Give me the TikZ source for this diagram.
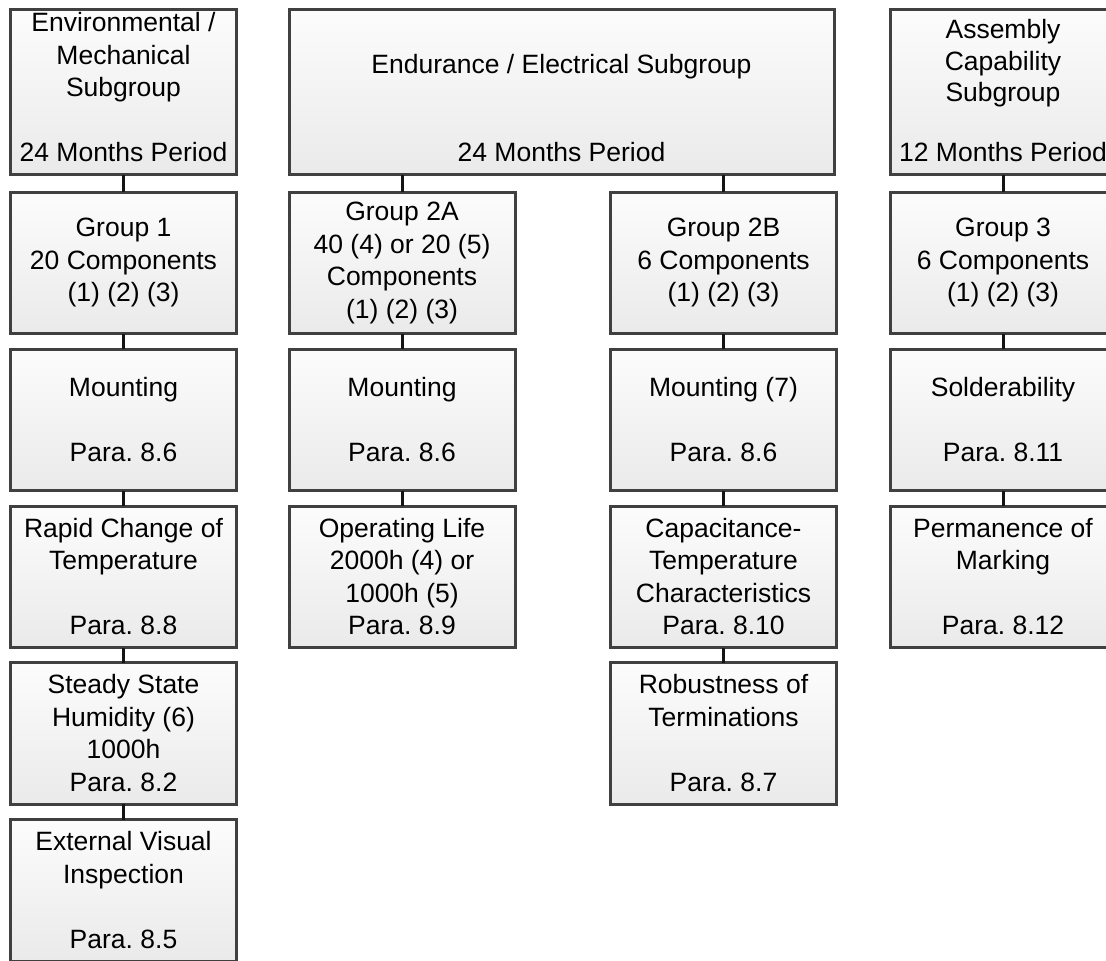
\documentclass[tikz,border=0pt]{standalone}
\usepackage{fontspec}
\setmainfont{Liberation Sans}
\frenchspacing
\definecolor{boxline}{HTML}{404040}
\definecolor{boxtop}{HTML}{FCFCFC}
\definecolor{boxbot}{HTML}{EAEAEA}
\definecolor{linkcol}{HTML}{141414}
\newcommand{\lowpad}[1]{\rule[-#1]{0pt}{0pt}}
\begin{document}
\begin{tikzpicture}[x=1pt,y=-1pt,
  box/.style={draw=boxline, line width=3pt, top color=boxtop, bottom color=boxbot,
    anchor=north west, minimum width=226pt, minimum height=141.5pt,
    inner sep=0pt, outer sep=0pt, align=center,
    font=\fontsize{26.5}{32.5}\selectfont\frenchspacing, text=black},
  tallbox/.style={box, minimum height=165pt},
  link/.style={line width=3pt, draw=linkcol}]
\fill[white] (0,0) rectangle (1106,961);
\clip (0,0) rectangle (1106,961);
% top row
\node[tallbox] (env) at (10.5,9.5) {Environmental /\\Mechanical\\Subgroup\\[32.5pt]24 Months Period\lowpad{10pt}};
\node[tallbox, minimum width=545pt] (endu) at (289,9.5) {\vphantom{E}\\Endurance / Electrical Subgroup\\[55.5pt]24 Months Period};
\node[tallbox, font=\fontsize{26.5}{31.5}\selectfont\frenchspacing] (asm) at (890,9.5) {Assembly\\Capability\\Subgroup\\[28pt]12 Months Period\lowpad{3pt}};
% column 1
\node[box] (g1) at (10.5,192) {Group 1\\20 Components\\(1) (2) (3)};
\node[box] (m1) at (10.5,349) {Mounting\\[32.5pt]Para. 8.6};
\node[box] (r1) at (10.5,506) {Rapid Change of\\Temperature\\[32.5pt]Para. 8.8};
\node[box] (s1) at (10.5,662.5) {Steady State\\Humidity (6)\\1000h\\Para. 8.2};
\node[box] (e1) at (10.5,819.5) {External Visual\\Inspection\\[32.5pt]Para. 8.5};
% column 2
\node[box] (g2a) at (289,192) {Group 2A\\40 (4) or 20 (5)\\Components\\(1) (2) (3)};
\node[box] (m2a) at (289,349) {Mounting\\[32.5pt]Para. 8.6};
\node[box] (o2a) at (289,506) {Operating Life\\2000h (4) or\\1000h (5)\\Para. 8.9};
% column 3
\node[box] (g2b) at (610.5,192) {Group 2B\\6 Components\\(1) (2) (3)};
\node[box] (m2b) at (610.5,349) {Mounting (7)\\[32.5pt]Para. 8.6};
\node[box] (c2b) at (610.5,506) {Capacitance-\\Temperature\\Characteristics\\Para. 8.10};
\node[box] (r2b) at (610.5,662.5) {Robustness of\\Terminations\\[32.5pt]Para. 8.7};
% column 4
\node[box] (g3) at (890,192) {Group 3\\6 Components\\(1) (2) (3)};
\node[box] (sol) at (890,349) {Solderability\\[32.5pt]Para. 8.11};
\node[box] (pm) at (890,506) {Permanence of\\Marking\\[32.5pt]Para. 8.12};
% connectors
\draw[link] (env.south) -- (g1.north);
\draw[link] (g1.south) -- (m1.north);
\draw[link] (m1.south) -- (r1.north);
\draw[link] (r1.south) -- (s1.north);
\draw[link] (s1.south) -- (e1.north);
\draw[link] (g2a.north |- endu.south) -- (g2a.north);
\draw[link] (g2a.south) -- (m2a.north);
\draw[link] (m2a.south) -- (o2a.north);
\draw[link] (g2b.north |- endu.south) -- (g2b.north);
\draw[link] (g2b.south) -- (m2b.north);
\draw[link] (m2b.south) -- (c2b.north);
\draw[link] (c2b.south) -- (r2b.north);
\draw[link] (asm.south) -- (g3.north);
\draw[link] (g3.south) -- (sol.north);
\draw[link] (sol.south) -- (pm.north);
\end{tikzpicture}
\end{document}
